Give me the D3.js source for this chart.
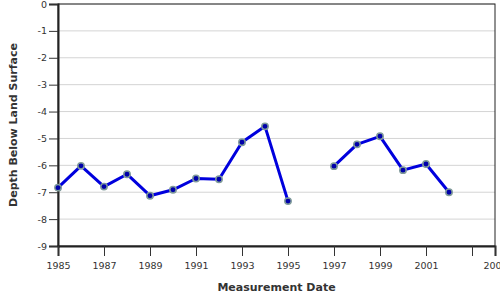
<!DOCTYPE html>
<meta charset="utf-8">
<script src="https://d3js.org/d3.v7.min.js"></script>
<style>
  body { margin: 0; background: #fff; }
  text { font-family: "DejaVu Sans", Verdana, sans-serif; }
</style>
<div id="chart"></div>
<script>

// Water level measurements (year, depth below land surface in ft)
var years  = [1985, 1986, 1987, 1988, 1989, 1990, 1991, 1992, 1993, 1994, 1995, 1996, 1997, 1998, 1999, 2000, 2001, 2002];
var depths = [-6.83, -6.02, -6.79, -6.33, -7.13, -6.91, -6.49, -6.52, -5.14, -4.55, -7.33, null, -6.03, -5.22, -4.92, -6.18, -5.95, -7.0];
var xTicks = [1985, 1987, 1989, 1991, 1993, 1995, 1997, 1999, 2001, 2003, 2004];
var xTickLabels = ["1985", "1987", "1989", "1991", "1993", "1995", "1997", "1999", "2001", "", "2004"];
var yTicks = [0, -1, -2, -3, -4, -5, -6, -7, -8, -9];

var margin = {top: 4, right: 5, bottom: 54, left: 58},
    width = 500 - margin.left - margin.right,
    height = 300 - margin.top - margin.bottom;

var svg = d3.select("#chart")
  .append("svg")
    .attr("width", 500)
    .attr("height", 300)
  .append("g")
    .attr("transform", "translate(" + margin.left + "," + margin.top + ")");

var x = d3.scaleLinear()
  .domain([1985, 2004])
  .range([0, width]);

var y = d3.scaleLinear()
  .domain([-9, 0])
  .range([height, 0]);

// horizontal grid
svg.append("g")
  .selectAll("line")
  .data(yTicks)
  .enter()
  .append("line")
    .attr("x1", 0)
    .attr("x2", width)
    .attr("y1", function(d) { return y(d) })
    .attr("y2", function(d) { return y(d) })
    .attr("stroke", "#d4d4d4")
    .attr("stroke-width", 1);

// frame
svg.append("rect")
  .attr("x", 0).attr("y", 0)
  .attr("width", width).attr("height", height)
  .attr("fill", "none")
  .attr("stroke", "#222")
  .attr("stroke-width", 1);

// Y axis
var yAxis = svg.append("g")
  .call(d3.axisLeft(y).tickValues(yTicks).tickSize(9).tickPadding(2)
    .tickFormat(function(d) { return String(d) }));
yAxis.select(".domain").attr("stroke", "#222").attr("stroke-width", 2);
yAxis.selectAll(".tick line").attr("stroke", "#333");
yAxis.selectAll("text").attr("font-size", "9.5px").attr("fill", "#333")
  .attr("font-family", "DejaVu Sans, sans-serif");

// X axis
var xAxis = svg.append("g")
  .attr("transform", "translate(0," + height + ")")
  .call(d3.axisBottom(x).tickValues(xTicks).tickSize(10).tickPadding(6)
    .tickFormat(function(d, i) { return xTickLabels[i] }));
xAxis.select(".domain").attr("stroke", "#222").attr("stroke-width", 2);
xAxis.selectAll(".tick line").attr("stroke", "#333");
xAxis.selectAll("text").attr("font-size", "9.5px").attr("fill", "#333")
  .attr("font-family", "DejaVu Sans, sans-serif");

var data = years.map(function(d, i) { return {year: d, depth: depths[i]} });

// line with a gap where no measurement
svg.append("path")
  .datum(data)
  .attr("d", d3.line()
    .defined(function(d) { return d.depth !== null })
    .x(function(d) { return x(d.year) })
    .y(function(d) { return y(d.depth) }))
  .attr("fill", "none")
  .attr("stroke", "#0000dd")
  .attr("stroke-width", 3)
  .attr("stroke-linejoin", "round");

svg.selectAll("circle")
  .data(data.filter(function(d) { return d.depth !== null }))
  .enter()
  .append("circle")
    .attr("cx", function(d) { return x(d.year) })
    .attr("cy", function(d) { return y(d.depth) })
    .attr("r", 3.2)
    .attr("fill", "#0000aa")
    .attr("stroke", "#7f9a9a")
    .attr("stroke-width", 1.5);

// axis titles
svg.append("text")
  .attr("transform", "translate(" + (width / 2) + "," + (height + 45) + ")")
  .text("Measurement Date")
  .style("text-anchor", "middle")
  .attr("font-size", "11px")
  .attr("font-weight", "bold")
  .attr("fill", "#333");

svg.append("text")
  .attr("transform", "translate(" + (-41) + "," + (height / 2) + ") rotate(-90)")
  .text("Depth Below Land Surface")
  .style("text-anchor", "middle")
  .attr("font-size", "11px")
  .attr("font-weight", "bold")
  .attr("fill", "#333");

</script>
